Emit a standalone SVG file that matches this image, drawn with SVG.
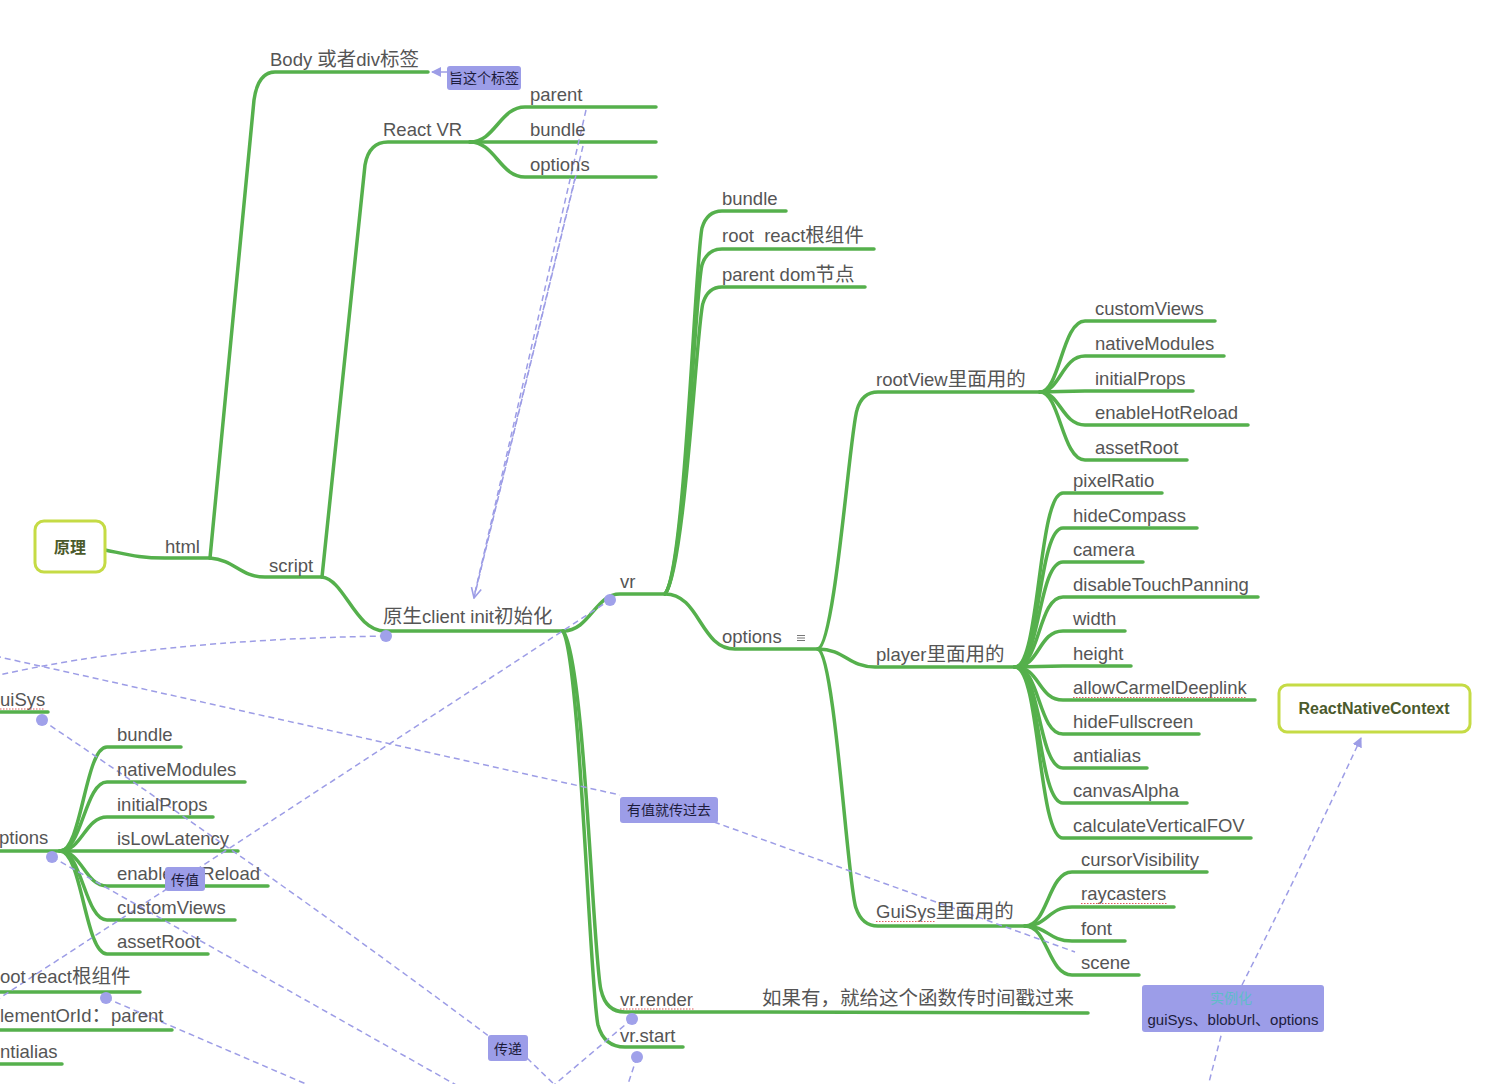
<svg xmlns="http://www.w3.org/2000/svg" width="1500" height="1084" viewBox="0 0 1500 1084">
<defs>
<style>
.br{fill:none;stroke:#55b04c;stroke-width:3.5;stroke-linecap:round;stroke-linejoin:round}
.t{font-family:"Liberation Sans","Noto Sans CJK SC",sans-serif;font-size:18.5px;fill:#555}
.cj{font-size:19.5px}
.dash{fill:none;stroke:#9d9de6;stroke-width:1.5;stroke-dasharray:6 4}
.lbl{fill:#9c9de8}
.lt{font-family:"Liberation Sans","Noto Sans CJK SC",sans-serif;font-size:14px;fill:#1c1c3c}
.dot{fill:#a0a1ea}
.sq{stroke:#e05a5a;stroke-width:1.2;stroke-dasharray:1.5 1.5;fill:none}
.box{fill:#fff;stroke:#c5db45;stroke-width:3}
.bt{font-family:"Liberation Sans","Noto Sans CJK SC",sans-serif;font-size:16px;font-weight:bold;fill:#4b5a2c;text-anchor:middle}
</style>
<marker id="chev" viewBox="0 0 12 12" refX="11" refY="6" markerWidth="12" markerHeight="12" markerUnits="userSpaceOnUse" orient="auto">
<path d="M1,1 L11,6 L1,11" fill="none" stroke="#9d9de6" stroke-width="1.6"/>
</marker>
<marker id="tri" viewBox="0 0 10 10" refX="9" refY="5" markerWidth="10" markerHeight="10" markerUnits="userSpaceOnUse" orient="auto">
<path d="M0,0 L10,5 L0,10 Z" fill="#9d9de6"/>
</marker>
</defs>
<rect width="1500" height="1084" fill="#ffffff"/>

<g id="connectors">
<path class="br" d="M105,550 C130,555 140,558 165,558 H210"/>
<path class="br" d="M210,558 L254,100 Q258,72 275,72 H428"/>
<path class="br" d="M210,558 C235,560 240,577 265,577 H322"/>
<path class="br" d="M322,577 L365,165 Q369,142 388,142 H470"/>
<path class="br" d="M470,142 C495,142 500,107 525,107 H656"/>
<path class="br" d="M470,142 H656"/>
<path class="br" d="M470,142 C495,142 500,177 525,177 H656"/>
<path class="br" d="M322,577 C345,580 355,631 385,631 H563"/>
<path class="br" d="M563,631 C590,631 595,594 620,594 H665"/>
<path class="br" d="M665,594 C685,570 695,260 702,228 Q707,211 722,211 H786"/>
<path class="br" d="M665,594 C685,570 695,290 702,265 Q707,249 722,249 H874"/>
<path class="br" d="M665,594 C685,570 697,320 703,303 Q708,287 722,287 H865"/>
<path class="br" d="M665,594 C700,594 700,649 735,649 H818"/>
<path class="br" d="M563,631 C585,660 593,960 601,990 Q606,1012 625,1012 H760 L1088,1013"/>
<path class="br" d="M563,631 C580,660 590,990 598,1025 Q604,1047 625,1047 H683"/>
<path class="br" d="M818,649 C835,645 850,430 857,410 Q862,392 878,392 H1040"/>
<path class="br" d="M818,649 C845,649 848,667 875,667 H1015"/>
<path class="br" d="M818,649 C835,655 848,890 856,908 Q862,926 878,926 H1025"/>
<path class="br" d="M1040,392 C1060,392 1062,321 1085,321 H1215"/>
<path class="br" d="M1040,392 C1060,392 1062,356 1085,356 H1224"/>
<path class="br" d="M1040,392 C1060,392 1062,391 1085,391 H1193"/>
<path class="br" d="M1040,392 C1060,392 1062,425 1085,425 H1248"/>
<path class="br" d="M1040,392 C1060,392 1062,460 1085,460 H1187"/>
<path class="br" d="M1015,667 C1040,667 1038,493 1063,493 H1162"/>
<path class="br" d="M1015,667 C1040,667 1038,528 1063,528 H1197"/>
<path class="br" d="M1015,667 C1040,667 1038,562 1063,562 H1143"/>
<path class="br" d="M1015,667 C1040,667 1038,597 1063,597 H1258"/>
<path class="br" d="M1015,667 C1040,667 1038,631 1063,631 H1125"/>
<path class="br" d="M1015,667 C1040,667 1038,666 1063,666 H1131"/>
<path class="br" d="M1015,667 C1040,667 1038,700 1063,700 H1255"/>
<path class="br" d="M1015,667 C1040,667 1038,734 1063,734 H1199"/>
<path class="br" d="M1015,667 C1040,667 1038,768 1063,768 H1147"/>
<path class="br" d="M1015,667 C1040,667 1038,803 1063,803 H1187"/>
<path class="br" d="M1015,667 C1040,667 1038,838 1063,838 H1251"/>
<path class="br" d="M1025,926 C1048,926 1048,872 1072,872 H1207"/>
<path class="br" d="M1025,926 C1048,926 1048,907 1072,907 H1174"/>
<path class="br" d="M1025,926 C1048,926 1048,941 1072,941 H1125"/>
<path class="br" d="M1025,926 C1048,926 1048,975 1072,975 H1139"/>
<path class="br" d="M-10,712 H48"/>
<path class="br" d="M-10,851 H60"/>
<path class="br" d="M60,851 C82,851 85,747 107,747 H181"/>
<path class="br" d="M60,851 C82,851 85,782 107,782 H245"/>
<path class="br" d="M60,851 C82,851 85,817 107,817 H213"/>
<path class="br" d="M60,851 H238"/>
<path class="br" d="M60,851 C82,851 85,886 107,886 H268"/>
<path class="br" d="M60,851 C82,851 85,920 107,920 H235"/>
<path class="br" d="M60,851 C82,851 85,954 107,954 H208"/>
<path class="br" d="M-10,992 H140"/>
<path class="br" d="M-10,1030 H172"/>
<path class="br" d="M-10,1064 H62"/>

<path class="dash" d="M447,72 L432,72" marker-end="url(#tri)"/>
<path class="dash" d="M586,110 L474,597"/>
<path class="dash" d="M575,178 L474,597"/>
<path class="dash" d="M583,146 L474,598" marker-end="url(#chev)"/>
<path class="dash" d="M386,636 Q150,640 -5,676"/>
<path class="dash" d="M-5,656 L620,795"/>
<path class="dash" d="M714,822 L1075,952"/>
<path class="dash" d="M42,720 Q280,880 490,1037"/>
<path class="dash" d="M527,1058 L560,1090"/>
<path class="dash" d="M52,857 L465,1090"/>
<path class="dash" d="M106,998 L320,1090"/>
<path class="dash" d="M-5,1001 L610,600"/>
<path class="dash" d="M632,1019 L548,1090"/>
<path class="dash" d="M637,1057 L626,1090"/>
<path class="dash" d="M1207,1090 L1222,1032"/>
<path class="dash" d="M1242,985 Q1295,880 1361,738" marker-end="url(#tri)"/>
</g>

<g id="n-root"><rect class="box" x="35" y="521" width="70" height="51" rx="9"/><text class="bt" x="70" y="553">原理</text></g>
<g id="n-html"><text class="t" x="165" y="553">html</text></g>
<g id="n-body"><text class="t" x="270" y="66">Body <tspan class="cj">或者</tspan>div<tspan class="cj">标签</tspan></text></g>
<g id="n-script"><text class="t" x="269" y="572">script</text></g>
<g id="n-reactvr"><text class="t" x="383" y="136">React VR</text></g>
<g id="n-rvr-parent"><text class="t" x="530" y="101">parent</text></g>
<g id="n-rvr-bundle"><text class="t" x="530" y="136">bundle</text></g>
<g id="n-rvr-options"><text class="t" x="530" y="171">options</text></g>
<g id="n-init"><text class="t" x="383" y="623"><tspan class="cj">原生</tspan>client init<tspan class="cj">初始化</tspan></text></g>
<g id="n-vr"><text class="t" x="620" y="588">vr</text></g>
<g id="n-vr-bundle"><text class="t" x="722" y="205">bundle</text></g>
<g id="n-vr-root"><text class="t" x="722" y="242" xml:space="preserve">root  react<tspan class="cj">根组件</tspan></text></g>
<g id="n-vr-parent"><text class="t" x="722" y="281">parent dom<tspan class="cj">节点</tspan></text></g>
<g id="n-options"><text class="t" x="722" y="643">options</text>
<path d="M797,635.5 H805 M797,638 H805 M797,640.5 H805" stroke="#777" stroke-width="1" fill="none"/></g>
<g id="n-rootview"><text class="t" x="876" y="386">rootView<tspan class="cj">里面用的</tspan></text></g>
<g id="n-rv-customViews"><text class="t" x="1095" y="315">customViews</text></g>
<g id="n-rv-nativeModules"><text class="t" x="1095" y="350">nativeModules</text></g>
<g id="n-rv-initialProps"><text class="t" x="1095" y="385">initialProps</text></g>
<g id="n-rv-enableHotReload"><text class="t" x="1095" y="419">enableHotReload</text></g>
<g id="n-rv-assetRoot"><text class="t" x="1095" y="454">assetRoot</text></g>
<g id="n-player"><text class="t" x="876" y="661">player<tspan class="cj">里面用的</tspan></text></g>
<g id="n-p-pixelRatio"><text class="t" x="1073" y="487">pixelRatio</text></g>
<g id="n-p-hideCompass"><text class="t" x="1073" y="522">hideCompass</text></g>
<g id="n-p-camera"><text class="t" x="1073" y="556">camera</text></g>
<g id="n-p-disableTouchPanning"><text class="t" x="1073" y="591">disableTouchPanning</text></g>
<g id="n-p-width"><text class="t" x="1073" y="625">width</text></g>
<g id="n-p-height"><text class="t" x="1073" y="660">height</text></g>
<g id="n-p-allowCarmelDeeplink"><text class="t" x="1073" y="694">allowCarmelDeeplink</text><path class="sq" d="M1073,697.5 H1247"/></g>
<g id="n-p-hideFullscreen"><text class="t" x="1073" y="728">hideFullscreen</text></g>
<g id="n-p-antialias"><text class="t" x="1073" y="762">antialias</text></g>
<g id="n-p-canvasAlpha"><text class="t" x="1073" y="797">canvasAlpha</text></g>
<g id="n-p-calculateVerticalFOV"><text class="t" x="1073" y="832">calculateVerticalFOV</text></g>
<g id="n-guisys"><text class="t" x="876" y="918">GuiSys<tspan class="cj">里面用的</tspan></text><path class="sq" d="M876,921.5 H936"/></g>
<g id="n-g-cursorVisibility"><text class="t" x="1081" y="866">cursorVisibility</text></g>
<g id="n-g-raycasters"><text class="t" x="1081" y="900">raycasters</text><path class="sq" d="M1081,903.5 H1168"/></g>
<g id="n-g-font"><text class="t" x="1081" y="935">font</text></g>
<g id="n-g-scene"><text class="t" x="1081" y="969">scene</text></g>
<g id="n-vr-render"><text class="t" x="620" y="1006">vr.render</text><path class="sq" d="M620,1009 H694"/></g>
<g id="n-vr-render-note"><text class="t cj" x="762" y="1005">如果有，就给这个函数传时间戳过来</text></g>
<g id="n-vr-start"><text class="t" x="620" y="1042">vr.start</text></g>

<g id="n-l-guisys"><text class="t" x="0" y="706">uiSys</text><path class="sq" d="M0,709 H44"/></g>
<g id="n-l-options"><text class="t" x="-1" y="844">ptions</text></g>
<g id="n-l-bundle"><text class="t" x="117" y="741">bundle</text></g>
<g id="n-l-nativeModules"><text class="t" x="117" y="776">nativeModules</text></g>
<g id="n-l-initialProps"><text class="t" x="117" y="811">initialProps</text></g>
<g id="n-l-isLowLatency"><text class="t" x="117" y="845">isLowLatency</text></g>
<g id="n-l-enableHotReload"><text class="t" x="117" y="880">enableHotReload</text></g>
<g id="n-l-customViews"><text class="t" x="117" y="914">customViews</text></g>
<g id="n-l-assetRoot"><text class="t" x="117" y="948">assetRoot</text></g>
<g id="n-l-root"><text class="t" x="0" y="983">oot react<tspan class="cj">根组件</tspan></text></g>
<g id="n-l-element"><text class="t" x="0" y="1022">lementOrId<tspan class="cj">：</tspan>parent</text></g>
<g id="n-l-antialias"><text class="t" x="0" y="1058">ntialias</text></g>

<g id="n-rnc"><rect class="box" x="1279" y="685" width="191" height="47" rx="8"/><text class="bt" x="1374" y="714">ReactNativeContext</text></g>

<g id="dots">
<circle class="dot" cx="386" cy="636" r="6"/>
<circle class="dot" cx="610" cy="600" r="6"/>
<circle class="dot" cx="42" cy="720" r="6"/>
<circle class="dot" cx="52" cy="857" r="6"/>
<circle class="dot" cx="106" cy="998" r="6"/>
<circle class="dot" cx="632" cy="1019" r="6"/>
<circle class="dot" cx="637" cy="1057" r="6"/>
</g>

<g id="l-zhi"><rect class="lbl" x="447" y="66" width="74" height="24" rx="3"/><text class="lt" x="449" y="83">旨这个标签</text></g>
<g id="l-youzhi"><rect class="lbl" x="620" y="797" width="98" height="26" rx="3"/><text class="lt" x="669" y="815" text-anchor="middle">有值就传过去</text></g>
<g id="l-chuanzhi"><rect class="lbl" x="165" y="867" width="40" height="24" rx="3"/><text class="lt" x="185" y="885" text-anchor="middle">传值</text></g>
<g id="l-chuandi"><rect class="lbl" x="488" y="1035" width="40" height="26" rx="3"/><text class="lt" x="508" y="1054" text-anchor="middle">传递</text></g>
<g id="l-shili"><rect class="lbl" x="1142" y="985" width="182" height="47" rx="3"/><text class="lt" x="1231" y="1003" text-anchor="middle" style="fill:#5fbcc8">实例化</text><text class="lt" x="1233" y="1025" text-anchor="middle" style="font-size:15px">guiSys、blobUrl、options</text></g>
</svg>
